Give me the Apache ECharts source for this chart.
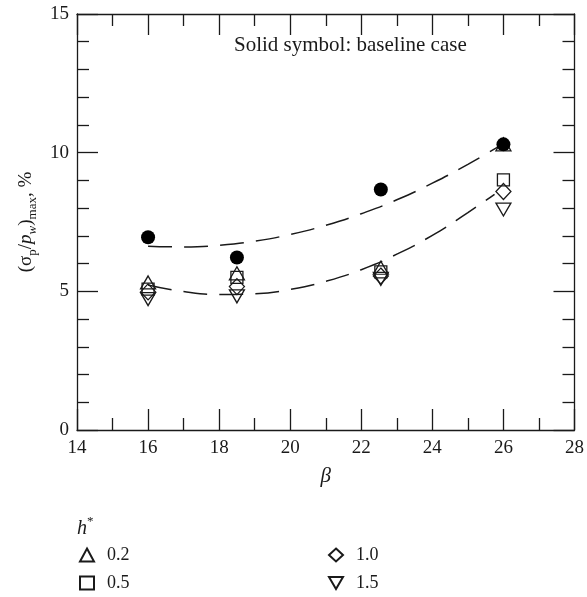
<!DOCTYPE html>
<html><head><meta charset="utf-8">
<script src="https://cdn.jsdelivr.net/npm/echarts@6/dist/echarts.min.js"></script>
<style>html,body{margin:0;padding:0;background:#fff}#c{width:587px;height:597px}</style>
</head><body><div id="c"></div>
<script>
// ---- data ----
const beta = [16, 18.5, 22.55, 26];
const baseline = [6.95, 6.22, 8.67, 10.3];   // solid circles
const h02 = [5.32, 5.65, 5.85, 10.3];        // up triangles
const h05 = [5.08, 5.5, 5.7, 9.02];          // squares
const h10 = [4.98, 5.17, 5.55, 8.6];         // diamonds
const h15 = [4.72, 4.82, 5.45, 7.95];        // down triangles
const upperX = [16, 17, 18, 19, 20, 21, 22, 23, 24, 25, 26];
const upperY = [6.63, 6.60, 6.66, 6.81, 7.05, 7.38, 7.80, 8.30, 8.90, 9.58, 10.33];
const lowerX = [16, 17, 18, 19, 20, 21, 22, 23, 24, 25, 25.75];
const lowerY = [5.23, 4.99, 4.89, 4.91, 5.07, 5.36, 5.78, 6.34, 7.02, 7.84, 8.5];
const xTickMin = 14, xTickMax = 28, xTickStep = 2;
const yTickMin = 0, yTickMax = 15, yTickStep = 5;
const legendNames = ['0.2', '0.5', '1.0', '1.5'];

const FONT = "'Liberation Serif','DejaVu Serif',serif";
const INK = '#1a1a1a';
const pair = (xs, ys) => xs.map((x, i) => [x, ys[i]]);

function xAx(pos, show) {
  return {
    type: 'value', position: pos, min: xTickMin, max: xTickMax, interval: xTickStep,
    axisLine: { show: true, onZero: false, lineStyle: { color: INK, width: 1.3 } },
    axisTick: { show: true, inside: true, length: 21, lineStyle: { color: INK, width: 1.3 } },
    minorTick: { show: true, splitNumber: 2, length: 12, lineStyle: { color: INK, width: 1.3 } },
    splitLine: { show: false },
    axisLabel: { show: show, margin: 9, color: INK, fontFamily: FONT, fontSize: 19 },
    name: show ? 'β' : '', nameLocation: 'middle', nameGap: 36,
    nameTextStyle: { color: INK, fontFamily: FONT, fontSize: 21, fontStyle: 'italic' }
  };
}
function yAx(pos, show) {
  return {
    type: 'value', position: pos, min: yTickMin, max: yTickMax, interval: yTickStep,
    axisLine: { show: true, onZero: false, lineStyle: { color: INK, width: 1.3 } },
    axisTick: { show: true, inside: true, length: 21, lineStyle: { color: INK, width: 1.3 } },
    minorTick: { show: true, splitNumber: 5, length: 12, lineStyle: { color: INK, width: 1.3 } },
    splitLine: { show: false },
    axisLabel: { show: show, margin: 8, color: INK, fontFamily: FONT, fontSize: 19 },
    name: show ? '(σ{sub|p}/{it|p}{itsub|w}){sub|max}, %' : '',
    nameLocation: 'middle', nameGap: 36, nameRotate: 90,
    nameTextStyle: {
      color: INK, fontFamily: FONT, fontSize: 19, lineHeight: 26,
      rich: {
        sub: { fontFamily: FONT, fontSize: 13, lineHeight: 13, verticalAlign: 'bottom', color: INK },
        it: { fontFamily: FONT, fontSize: 19, fontStyle: 'italic', lineHeight: 26, color: INK },
        itsub: { fontFamily: FONT, fontSize: 13, fontStyle: 'italic', lineHeight: 13, verticalAlign: 'bottom', color: INK }
      }
    }
  };
}

const hollow = { color: 'rgba(0,0,0,0)', borderColor: INK, borderWidth: 1.3, opacity: 1 };
const DOWN_TRI = 'path://M0,0 L10,0 L5,8.66 Z';

const legendCommon = {
  orient: 'vertical', top: 546, padding: 0,
  itemWidth: 14, itemHeight: 13, itemGap: 10,
  textStyle: { fontFamily: FONT, fontSize: 18, color: INK, padding: [0, 0, 0, 8] }
};

const option = {
  animation: false,
  backgroundColor: '#fff',
  grid: { left: 77, right: 10, top: 14, bottom: 167 },
  xAxis: [xAx('bottom', true), xAx('top', false)],
  yAxis: [yAx('left', true), yAx('right', false)],
  title: {
    text: '{i|h}{s|*}', left: 77, top: 515, padding: 0,
    textStyle: {
      fontWeight: 'normal',
      rich: {
        i: { fontFamily: FONT, fontSize: 20, fontStyle: 'italic', fontWeight: 'normal', color: INK, lineHeight: 24, verticalAlign: 'bottom' },
        s: { fontFamily: FONT, fontSize: 13, fontWeight: 'normal', color: INK, lineHeight: 24, verticalAlign: 'top' }
      }
    }
  },
  legend: [
    Object.assign({ data: legendNames.slice(0, 2), left: 79 }, legendCommon),
    Object.assign({ data: legendNames.slice(2, 4), left: 328 }, legendCommon)
  ],
  graphic: [{
    type: 'text', left: 234, top: 35, z: 10,
    style: { text: 'Solid symbol: baseline case', fill: INK, font: "21px 'Liberation Serif', serif" }
  }],
  series: [
    { type: 'line', name: 'fitU', data: pair(upperX, upperY), smooth: true, showSymbol: false,
      lineStyle: { color: INK, width: 1.5, type: [24, 12] }, silent: true, z: 1 },
    { type: 'line', name: 'fitL', data: pair(lowerX, lowerY), smooth: true, showSymbol: false,
      lineStyle: { color: INK, width: 1.5, type: [24, 12] }, silent: true, z: 1 },
    { type: 'scatter', name: 'baseline', data: pair(beta, baseline), symbol: 'circle', symbolSize: 14,
      itemStyle: { color: '#000', opacity: 1 }, z: 3 },
    { type: 'scatter', name: '0.2', data: pair(beta, h02), symbol: 'triangle', symbolSize: [15, 13],
      itemStyle: hollow, z: 2 },
    { type: 'scatter', name: '0.5', data: pair(beta, h05), symbol: 'rect', symbolSize: [12, 12],
      itemStyle: hollow, z: 2 },
    { type: 'scatter', name: '1.0', data: pair(beta, h10), symbol: 'diamond', symbolSize: [15, 16],
      itemStyle: hollow, z: 2 },
    { type: 'scatter', name: '1.5', data: pair(beta, h15), symbol: DOWN_TRI,
      symbolSize: [15, 13], itemStyle: hollow, z: 2 }
  ]
};
const chart = echarts.init(document.getElementById('c'), null, { renderer: 'canvas' });
chart.setOption(option);
</script></body></html>
